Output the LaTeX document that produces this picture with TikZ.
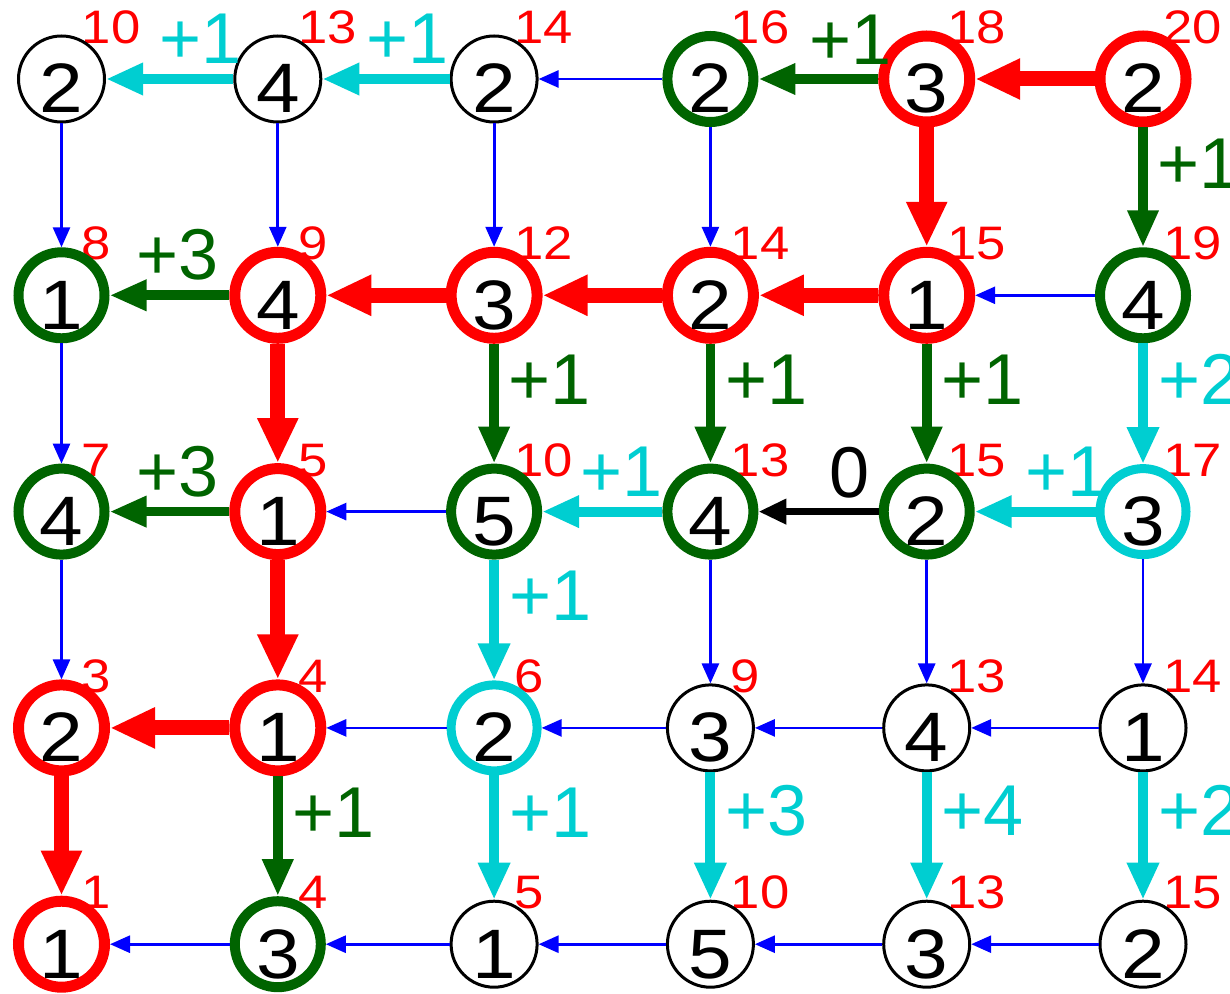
\documentclass[tikz,border=0pt]{standalone}
\usepackage{fontspec}
\setmainfont{Liberation Sans}[FakeStretch=1.12]
\newfontfamily\lblfont{Liberation Sans}
\usetikzlibrary{arrows.meta,positioning,backgrounds}
\definecolor{dgreen}{RGB}{0,100,0}
\definecolor{tcyan}{RGB}{0,206,209}

\begin{document}
\begin{tikzpicture}[
    x=0.5pt, y=0.5pt,
    node distance=108.15pt, on grid,
    basenode/.style={circle, draw, fill=white, minimum size=43pt, inner sep=0pt,
                     font=\fontsize{35}{35}\selectfont, text height=34pt, text depth=0pt},
    blknode/.style={basenode, line width=1.5pt},
    grnnode/.style={basenode, draw=dgreen, line width=5pt},
    rednode/.style={basenode, draw=red, line width=5.5pt},
    cynnode/.style={basenode, draw=tcyan, line width=4.5pt},
    cost/.style={anchor=base west, inner sep=0pt, text=red,
                 font=\fontsize{23.5}{23.5}\selectfont},
    bluearrow/.style={-{Triangle[length=10pt, width=8.5pt]}, line width=1.4pt, blue},
    cynarrow/.style={-{Triangle[length=18.5pt, width=15pt]}, line width=5pt, tcyan},
    grnarrow/.style={-{Triangle[length=18.5pt, width=14.5pt]}, line width=4.8pt, dgreen},
    redarrow/.style={-{Triangle[length=22.5pt, width=19pt]}, line width=7.5pt, red},
    blkarrow/.style={-{Triangle[length=14pt, width=12pt]}, line width=3.5pt, black},
    lbl/.style={font=\lblfont\fontsize{36}{36}\selectfont, inner sep=5pt},
    lblcyn/.style={lbl, tcyan},
    lblgrn/.style={lbl, dgreen},
  ]
    \useasboundingbox (0,0) rectangle (1230,-994);

    % Row 1
    \node[blknode] (n11) at (61.5,-79) {2};
    \node[blknode, right=of n11] (n12) {4};
    \node[blknode, right=of n12] (n13) {2};
    \node[grnnode, right=of n13] (n14) {2};
    \node[rednode, right=of n14] (n15) {3};
    \node[rednode, right=of n15] (n16) {2};

    % Row 2
    \node[grnnode, below=of n11] (n21) {1};
    \node[rednode, right=of n21] (n22) {4};
    \node[rednode, right=of n22] (n23) {3};
    \node[rednode, right=of n23] (n24) {2};
    \node[rednode, right=of n24] (n25) {1};
    \node[grnnode, right=of n25] (n26) {4};

    % Row 3
    \node[grnnode, below=of n21] (n31) {4};
    \node[rednode, right=of n31] (n32) {1};
    \node[grnnode, right=of n32] (n33) {5};
    \node[grnnode, right=of n33] (n34) {4};
    \node[grnnode, right=of n34] (n35) {2};
    \node[cynnode, right=of n35] (n36) {3};

    % Row 4
    \node[rednode, below=of n31] (n41) {2};
    \node[rednode, right=of n41] (n42) {1};
    \node[cynnode, right=of n42] (n43) {2};
    \node[blknode, right=of n43] (n44) {3};
    \node[blknode, right=of n44] (n45) {4};
    \node[blknode, right=of n45] (n46) {1};

    % Row 5
    \node[rednode, below=of n41] (n51) {1};
    \node[grnnode, right=of n51] (n52) {3};
    \node[blknode, right=of n52] (n53) {1};
    \node[blknode, right=of n53] (n54) {5};
    \node[blknode, right=of n54] (n55) {3};
    \node[blknode, right=of n55] (n56) {2};

    % Horizontal edges
    \draw[cynarrow] (n12) -- (n11) node[lblcyn, above, pos=0.26] {+1};
    \draw[cynarrow] (n13) -- (n12) node[lblcyn, above, pos=0.33] {+1};
    \draw[bluearrow] (n14) -- (n13);
    \draw[grnarrow] (n15) -- (n14) node[lblgrn, above, pos=0.23] {+1};
    \draw[redarrow] (n16) -- (n15);

    \draw[grnarrow] (n22) -- (n21) node[lblgrn, above, pos=0.43] {+3};
    \draw[redarrow] (n23) -- (n22);
    \draw[redarrow] (n24) -- (n23);
    \draw[redarrow] (n25) -- (n24);
    \draw[bluearrow] (n26) -- (n25);

    \draw[grnarrow] (n32) -- (n31) node[lblgrn, above, pos=0.43] {+3};
    \draw[bluearrow] (n33) -- (n32);
    \draw[cynarrow] (n34) -- (n33) node[lblcyn, above, pos=0.34] {+1};
    \draw[blkarrow] (n35) -- (n34) node[lbl, above, pos=0.24] {0};
    \draw[cynarrow] (n36) -- (n35) node[lblcyn, above, pos=0.24] {+1};

    \draw[redarrow] (n42) -- (n41);
    \draw[bluearrow] (n43) -- (n42);
    \draw[bluearrow] (n44) -- (n43);
    \draw[bluearrow] (n45) -- (n44);
    \draw[bluearrow] (n46) -- (n45);

    \draw[bluearrow] (n52) -- (n51);
    \draw[bluearrow] (n53) -- (n52);
    \draw[bluearrow] (n54) -- (n53);
    \draw[bluearrow] (n55) -- (n54);
    \draw[bluearrow] (n56) -- (n55);

    % Vertical edges
    \draw[bluearrow] (n11) -- (n21);
    \draw[bluearrow] (n12) -- (n22);
    \draw[bluearrow] (n13) -- (n23);
    \draw[bluearrow] (n14) -- (n24);
    \draw[redarrow] (n15) -- (n25);
    \draw[grnarrow] (n16) -- (n26) node[lblgrn, right, pos=0.3] {+1};

    \draw[bluearrow] (n21) -- (n31);
    \draw[redarrow] (n22) -- (n32);
    \draw[grnarrow] (n23) -- (n33) node[lblgrn, right, pos=0.3] {+1};
    \draw[grnarrow] (n24) -- (n34) node[lblgrn, right, pos=0.3] {+1};
    \draw[grnarrow] (n25) -- (n35) node[lblgrn, right, pos=0.3] {+1};
    \draw[cynarrow] (n26) -- (n36) node[lblcyn, right, pos=0.3] {+2};

    \draw[bluearrow] (n31) -- (n41);
    \draw[redarrow] (n32) -- (n42);
    \draw[cynarrow] (n33) -- (n43) node[lblcyn, right, pos=0.3] {+1};
    \draw[bluearrow] (n34) -- (n44);
    \draw[bluearrow] (n35) -- (n45);
    \draw[bluearrow] (n36) -- (n46);

    \draw[redarrow] (n41) -- (n51);
    \draw[grnarrow] (n42) -- (n52) node[lblgrn, right, pos=0.3] {+1};
    \draw[cynarrow] (n43) -- (n53) node[lblcyn, right, pos=0.3] {+1};
    \draw[cynarrow] (n44) -- (n54) node[lblcyn, right, pos=0.3] {+3};
    \draw[cynarrow] (n45) -- (n55) node[lblcyn, right, pos=0.3] {+4};
    \draw[cynarrow] (n46) -- (n56) node[lblcyn, right, pos=0.3] {+2};

    % Red costs behind the circles
    \begin{scope}[on background layer, every node/.append style={cost}]
      \node (c11) at ([xshift=10pt, yshift=17.75pt]n11.center) {10};
      \node (c12) at ([xshift=10pt, yshift=17.75pt]n12.center) {13};
      \node (c13) at ([xshift=10pt, yshift=17.75pt]n13.center) {14};
      \node (c14) at ([xshift=10pt, yshift=17.75pt]n14.center) {16};
      \node (c15) at ([xshift=10pt, yshift=17.75pt]n15.center) {18};
      \node (c16) at ([xshift=10pt, yshift=17.75pt]n16.center) {20};
      \node (c21) at ([xshift=10pt, yshift=17.75pt]n21.center) {8};
      \node (c22) at ([xshift=10pt, yshift=17.75pt]n22.center) {9};
      \node (c23) at ([xshift=10pt, yshift=17.75pt]n23.center) {12};
      \node (c24) at ([xshift=10pt, yshift=17.75pt]n24.center) {14};
      \node (c25) at ([xshift=10pt, yshift=17.75pt]n25.center) {15};
      \node (c26) at ([xshift=10pt, yshift=17.75pt]n26.center) {19};
      \node (c31) at ([xshift=10pt, yshift=17.75pt]n31.center) {7};
      \node (c32) at ([xshift=10pt, yshift=17.75pt]n32.center) {5};
      \node (c33) at ([xshift=10pt, yshift=17.75pt]n33.center) {10};
      \node (c34) at ([xshift=10pt, yshift=17.75pt]n34.center) {13};
      \node (c35) at ([xshift=10pt, yshift=17.75pt]n35.center) {15};
      \node (c36) at ([xshift=10pt, yshift=17.75pt]n36.center) {17};
      \node (c41) at ([xshift=10pt, yshift=17.75pt]n41.center) {3};
      \node (c42) at ([xshift=10pt, yshift=17.75pt]n42.center) {4};
      \node (c43) at ([xshift=10pt, yshift=17.75pt]n43.center) {6};
      \node (c44) at ([xshift=10pt, yshift=17.75pt]n44.center) {9};
      \node (c45) at ([xshift=10pt, yshift=17.75pt]n45.center) {13};
      \node (c46) at ([xshift=10pt, yshift=17.75pt]n46.center) {14};
      \node (c51) at ([xshift=10pt, yshift=17.75pt]n51.center) {1};
      \node (c52) at ([xshift=10pt, yshift=17.75pt]n52.center) {4};
      \node (c53) at ([xshift=10pt, yshift=17.75pt]n53.center) {5};
      \node (c54) at ([xshift=10pt, yshift=17.75pt]n54.center) {10};
      \node (c55) at ([xshift=10pt, yshift=17.75pt]n55.center) {13};
      \node (c56) at ([xshift=10pt, yshift=17.75pt]n56.center) {15};
    \end{scope}
  \end{tikzpicture}
\end{document}
